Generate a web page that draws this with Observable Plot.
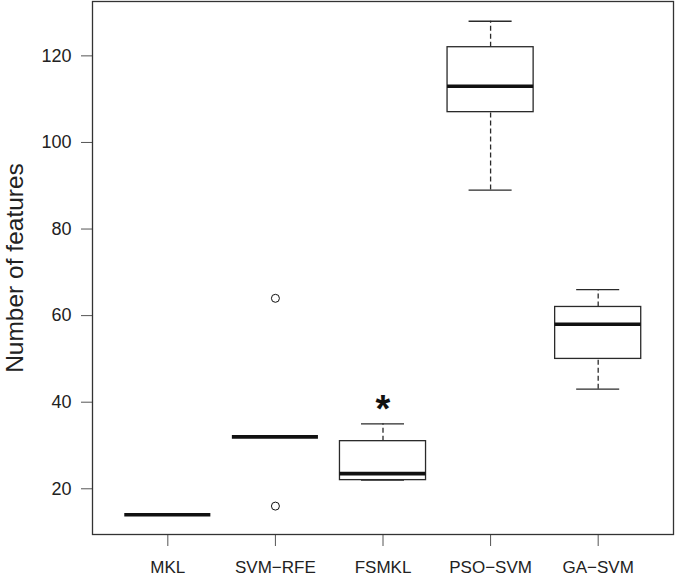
<!DOCTYPE html>
<html>
<head>
<meta charset="utf-8">
<script src="https://cdn.jsdelivr.net/npm/d3@7"></script>
<script src="https://cdn.jsdelivr.net/npm/@observablehq/plot@0.6"></script>
<style>
  html, body { margin: 0; padding: 0; background: #fff; }
  #chart svg { display: block; }
</style>
</head>
<body>
<div id="chart"></div>
<script>
// Box-plot summaries
const methods = ["MKL", "SVM\u2212RFE", "FSMKL", "PSO\u2212SVM", "GA\u2212SVM"];
const lowerWhisker = [14, 32, 22, 89, 43];
const q1 = [14, 32, 22, 107, 50];
const median = [14, 32, 23.5, 113, 58];
const q3 = [14, 32, 31, 122, 62];
const upperWhisker = [14, 32, 35, 128, 66];

// Outliers
const outlierMethod = ["SVM\u2212RFE", "SVM\u2212RFE"];
const outlierValue = [64, 16];

// Significance mark
const starMethod = ["FSMKL"];
const starValue = [39.5];

const yTicks = [20, 40, 60, 80, 100, 120];
const yLabel = "Number of features";

const boxes = methods.map((m, i) => ({
  method: m, pos: i + 1,
  lo: lowerWhisker[i], q1: q1[i], med: median[i], q3: q3[i], hi: upperWhisker[i]
}));
const outliers = outlierMethod.map((m, i) => ({pos: methods.indexOf(m) + 1, value: outlierValue[i]}));
const stars = starMethod.map((m, i) => ({pos: methods.indexOf(m) + 1, value: starValue[i]}));

const halfBox = 0.4, halfCap = 0.2;
const dark = "#2a2a2a";

const chart = Plot.plot({
  width: 675,
  height: 578,
  marginTop: 1,
  marginBottom: 44,
  marginLeft: 92,
  marginRight: 2,
  style: {fontFamily: "'Liberation Sans', Arial, Helvetica, sans-serif", background: "#fff"},
  x: {type: "linear", domain: [0.3, 5.7]},
  y: {domain: [9.44, 132.56]},
  marks: [
    // whiskers (dashed)
    Plot.ruleX(boxes, {x: "pos", y1: "q3", y2: "hi", stroke: dark, strokeWidth: 1.3, strokeDasharray: "5,3"}),
    Plot.ruleX(boxes, {x: "pos", y1: "lo", y2: "q1", stroke: dark, strokeWidth: 1.3, strokeDasharray: "5,3"}),
    // whisker caps
    Plot.ruleY(boxes, {y: "hi", x1: d => d.pos - halfCap, x2: d => d.pos + halfCap, stroke: dark, strokeWidth: 1.3}),
    Plot.ruleY(boxes, {y: "lo", x1: d => d.pos - halfCap, x2: d => d.pos + halfCap, stroke: dark, strokeWidth: 1.3}),
    // boxes
    Plot.rect(boxes, {x1: d => d.pos - halfBox, x2: d => d.pos + halfBox, y1: "q1", y2: "q3", fill: "white", stroke: dark, strokeWidth: 1.3}),
    // medians
    Plot.ruleY(boxes, {y: "med", x1: d => d.pos - halfBox, x2: d => d.pos + halfBox, stroke: "#111", strokeWidth: 3.6}),
    // outliers
    Plot.dot(outliers, {x: "pos", y: "value", r: 4, stroke: "#111", strokeWidth: 1, fill: "none"}),
    // asterisk
    Plot.text(stars, {x: "pos", y: "value", text: () => "*", fontSize: 38, fontWeight: "bold", fill: "#111", dy: 5}),
    // axes
    Plot.axisY({ticks: yTicks, tickSize: 11, tickPadding: 10, fontSize: 18, label: null, stroke: "#555", color: "#222"}),
    Plot.axisX({ticks: [1, 2, 3, 4, 5], tickFormat: d => methods[d - 1], tickSize: 12, tickPadding: 14, fontSize: 17, label: null, stroke: "#555", color: "#222"}),
    Plot.text([yLabel], {text: d => d, frameAnchor: "left", textAnchor: "middle", rotate: -90, dx: -77, fontSize: 24.5, fill: "#222"}),
    Plot.frame({stroke: "#333", strokeWidth: 1.3})
  ]
});
document.getElementById("chart").appendChild(chart);
</script>
</body>
</html>
